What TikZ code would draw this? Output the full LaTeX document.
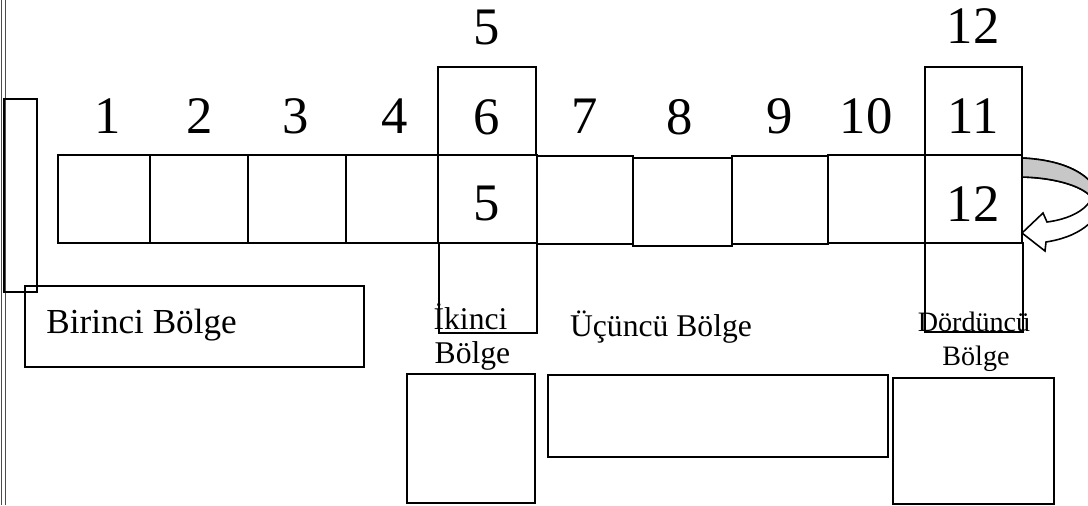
\documentclass[tikz,border=0pt]{standalone}
\usepackage{fontspec}
\setmainfont{Liberation Serif}
\usepackage{xcolor}
\usepackage{tikz}

\begin{document}
\begin{tikzpicture}[x=0.02cm, y=-0.02cm,
    box/.style={rectangle, draw, line width=0.9pt, inner sep=0pt},
    cell/.style={box, minimum width=1.96cm, minimum height=1.76cm},
    num/.style={anchor=base, inner sep=0pt, font=\fontsize{30}{32}\selectfont},
    lbl/.style={anchor=base, inner sep=0pt, font=\fontsize{18}{20}\selectfont},
    small/.style={anchor=base, inner sep=0pt, font=\fontsize{16}{18}\selectfont}
]
\useasboundingbox (0,0) rectangle (1088,505);

% Page edge
\draw[line width=0.5pt, black!70] (1.5,0) -- (1.5,505);
\draw[line width=0.5pt, black!70] (5.5,0) -- (5.5,505);

% Boxes
\node[box, minimum width=0.66cm, minimum height=3.86cm] (side) at (20.5,195.5) {};
\node[cell, minimum width=1.84cm] (c1) at (104,199) {};
\node[cell] (c2) at (199,199) {};
\node[cell] (c3) at (297,199) {};
\node[cell, minimum width=1.84cm] (c4) at (392,199) {};
\node[cell, minimum width=1.98cm] (c5) at (487.5,199) {};
\node[cell, minimum width=1.92cm] (c7) at (585,200) {};
\node[cell, minimum width=1.98cm] (c8) at (682.5,202) {};
\node[cell, minimum width=1.92cm] (c9) at (780,200) {};
\node[cell, minimum width=1.94cm] (c10) at (876.5,199) {};
\node[cell, minimum width=1.94cm] (c12) at (973.5,199) {};

% Boxes above and below the row
\node[cell] (top6) at (487,111) {};
\node[cell, minimum width=1.94cm] (top11) at (973.5,111) {};
\node[cell, minimum height=1.8cm] (under5) at (488,288) {};
\node[cell, minimum height=1.78cm] (under12) at (974,287.5) {};

% Region boxes
\node[box, minimum width=6.78cm, minimum height=1.62cm] (reg1) at (194.5,326.5) {};
\node[box, minimum width=2.56cm, minimum height=2.58cm] (reg2) at (471,438.5) {};
\node[box, minimum width=6.8cm, minimum height=1.64cm] (reg3) at (718,416) {};
\node[box, minimum width=3.22cm, minimum height=2.52cm] (reg4) at (973.5,441) {};

% Turn arrow
\filldraw[fill=white, line width=0.9pt] (1022,158) .. controls (1065,160) and (1095,175) .. (1100,200)
    .. controls (1102,215) and (1085,236) .. (1046,242) -- (1045,251) -- (1022,233) -- (1043,213)
    -- (1047,222) .. controls (1070,219) and (1086,210) .. (1092,198)
    .. controls (1085,188) and (1060,178) .. (1022,177) -- cycle;
\filldraw[fill=black!22, line width=0.9pt] (1022,158) .. controls (1065,160) and (1095,175) .. (1100,200)
    -- (1092,198) .. controls (1085,188) and (1060,178) .. (1022,177) -- cycle;

% Numbers
\node[num] (n1) at (108,133) {1};
\node[num] (n2) at (200,133) {2};
\node[num] (n3) at (296,133) {3};
\node[num] (n4) at (395,133) {4};
\node[num] (n6) at (487,134) {6};
\node[num] (n7) at (585,133) {7};
\node[num] (n8) at (680,134) {8};
\node[num] (n9) at (780,133) {9};
\node[num] (n10) at (866,133) {10};
\node[num] (n11) at (973,133) {11};
\node[num] (t5) at (487,44) {5};
\node[num] (t12) at (973,43) {12};
\node[num] (i5) at (487,220) {5};
\node[num] (i12) at (973,221) {12};

% Region labels
\node[lbl, anchor=base west, font=\fontsize{20}{22}\selectfont] (r1) at (46,333) {Birinci Bölge};
\node[lbl] (r2a) at (470.5,329) {İkinci};
\node[lbl] (r2b) at (472.5,363) {Bölge};
\node[lbl] (r3) at (661,336) {Üçüncü Bölge};
\node[small] (r4a) at (974,331) {Dördüncü};
\node[small] (r4b) at (976,365) {Bölge};
\end{tikzpicture}
\end{document}
